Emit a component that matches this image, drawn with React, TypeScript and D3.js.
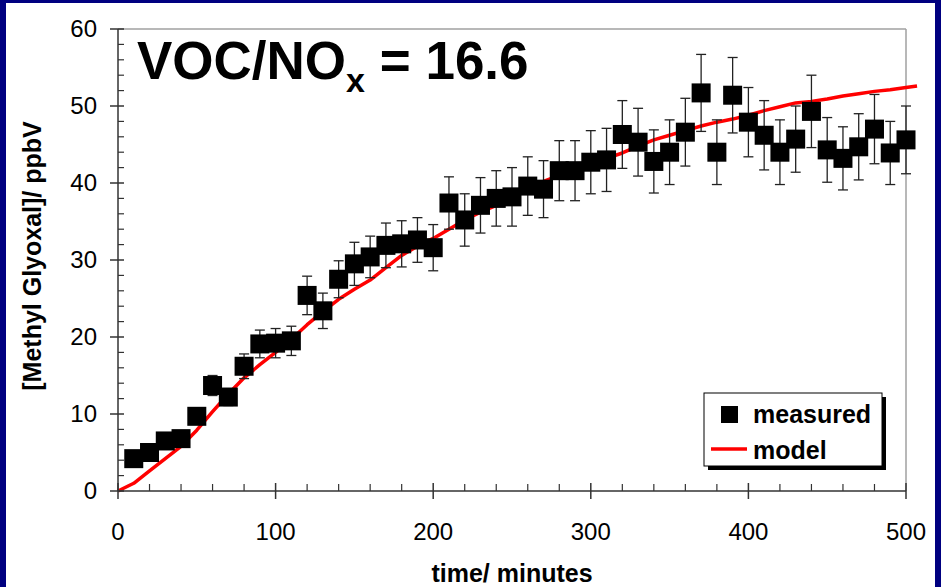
import * as d3 from 'd3';

// measured methyl glyoxal (ppbV) every 10 minutes, with error bars
const times = [10, 20, 30, 40, 50, 60, 70, 80, 90, 100,
    110, 120, 130, 140, 150, 160, 170, 180, 190, 200,
    210, 220, 230, 240, 250, 260, 270, 280, 290, 300,
    310, 320, 330, 340, 350, 360, 370, 380, 390, 400,
    410, 420, 430, 440, 450, 460, 470, 480, 490, 500];
const measured = [4.2, 5.0, 6.5, 6.8, 9.7, 13.7, 12.2, 16.2, 19.1, 19.2,
    19.5, 25.4, 23.4, 27.5, 29.5, 30.4, 31.9, 32.1, 32.6, 31.6,
    37.4, 35.2, 37.1, 38.0, 38.2, 39.6, 39.2, 41.6, 41.6, 42.7,
    43.0, 46.3, 45.3, 42.8, 44.0, 46.6, 51.7, 44.0, 51.4, 47.9,
    46.2, 44.0, 45.7, 49.3, 44.3, 43.2, 44.7, 47.0, 43.9, 45.6];
const errors = [0.4, 0.5, 0.6, 0.6, 0.9, 1.3, 1.1, 1.6, 1.8, 1.9,
    1.9, 2.5, 2.3, 2.4, 2.8, 2.7, 2.9, 3.0, 2.9, 3.0,
    3.4, 3.4, 3.6, 3.6, 3.8, 3.8, 3.7, 3.9, 3.9, 4.1,
    4.1, 4.4, 4.4, 4.1, 4.2, 4.4, 5.0, 4.2, 4.9, 4.5,
    4.5, 4.2, 4.3, 4.7, 4.2, 4.1, 4.3, 4.5, 4.1, 4.4];

// model curve
const modelTimes = [0, 10, 20, 30, 40, 50, 60, 70, 80, 90, 100,
    110, 120, 130, 140, 150, 160, 170, 180, 190, 200,
    210, 220, 230, 240, 250, 260, 270, 280, 290, 300,
    310, 320, 330, 340, 350, 360, 370, 380, 390, 400,
    410, 420, 430, 440, 450, 460, 470, 480, 490, 500, 507];
const modelValues = [0, 1.0, 2.6, 4.2, 5.8, 7.9, 10.3, 12.6, 14.7, 16.4, 18.0,
    19.7, 21.6, 23.3, 24.9, 26.2, 27.4, 29.0, 30.6, 31.8, 32.8,
    34.0, 35.2, 36.2, 37.1, 38.1, 39.2, 40.2, 41.0, 41.9, 42.6,
    43.2, 43.9, 44.8, 45.6, 46.2, 46.8, 47.4, 47.9, 48.3, 48.8,
    49.4, 49.9, 50.4, 50.6, 50.9, 51.3, 51.6, 51.9, 52.1, 52.4, 52.6];

const xTicks = [0, 100, 200, 300, 400, 500];
const yTicks = [0, 10, 20, 30, 40, 50, 60];

const font = "'Liberation Sans', Arial, sans-serif";

export default function App() {
    const W = 941, H = 587;
    const left = 118, right = 906, top = 29, bottom = 491;

    const x = d3.scaleLinear().domain([0, 500]).range([left, right]);
    const y = d3.scaleLinear().domain([0, 60]).range([bottom, top]);

    const modelPts = modelTimes.map((t, i) => [t, modelValues[i]] as [number, number]);
    const line = d3.line<[number, number]>()
        .x(d => x(d[0]))
        .y(d => y(d[1]));

    const xMinor = d3.range(0, 501, 20).filter(v => v % 100 !== 0);
    const yMinor = d3.range(0, 61, 2).filter(v => v % 10 !== 0);
    const axisColor = '#333';
    const sq = 19;

    return (
        <svg width={W} height={H} style={{ position: 'absolute', left: 0, top: 0 }} fontFamily={font}>
            <rect x={0} y={0} width={W} height={H} fill="#000080" />
            <rect x={6} y={3} width={929} height={H - 3} fill="#fff" />

            {/* frame */}
            <line x1={left} x2={right} y1={top} y2={top} stroke="#a0a0a0" strokeWidth={1.5} />
            <line x1={right} x2={right} y1={top} y2={bottom} stroke="#a0a0a0" strokeWidth={1.5} />

            {/* model */}
            <path d={line(modelPts) || ''} fill="none" stroke="#ff0000" strokeWidth={3.5} strokeLinejoin="round" />

            {/* error bars */}
            {times.map((t, i) => {
                const cx = x(t);
                const y1 = y(measured[i] + errors[i]);
                const y2 = y(measured[i] - errors[i]);
                return (
                    <g key={'e' + i} stroke="#222" strokeWidth={1.3}>
                        <line x1={cx} x2={cx} y1={y1} y2={y2} />
                        <line x1={cx - 5} x2={cx + 5} y1={y1} y2={y1} />
                        <line x1={cx - 5} x2={cx + 5} y1={y2} y2={y2} />
                    </g>
                );
            })}

            {/* measured squares */}
            {times.map((t, i) => (
                <rect key={'m' + i} x={x(t) - sq / 2} y={y(measured[i]) - sq / 2}
                    width={sq} height={sq} fill="#000" />
            ))}

            {/* y axis */}
            <line x1={left} x2={left} y1={top} y2={bottom} stroke={axisColor} strokeWidth={1.5} />
            {yTicks.map(v => (
                <g key={'yt' + v}>
                    <line x1={left - 8} x2={left + 6} y1={y(v)} y2={y(v)} stroke={axisColor} strokeWidth={1.5} />
                    <text x={97} y={y(v) + 8} textAnchor="end" fontSize={24} fill="#000">{v}</text>
                </g>
            ))}
            {yMinor.map(v => (
                <line key={'ym' + v} x1={left} x2={left + 6} y1={y(v)} y2={y(v)} stroke={axisColor} strokeWidth={1.2} />
            ))}

            {/* x axis */}
            <line x1={left} x2={right} y1={bottom} y2={bottom} stroke={axisColor} strokeWidth={1.5} />
            {xTicks.map(v => (
                <g key={'xt' + v}>
                    <line x1={x(v)} x2={x(v)} y1={bottom - 8} y2={bottom + 8} stroke={axisColor} strokeWidth={1.5} />
                    <text x={x(v)} y={540} textAnchor="middle" fontSize={24} fill="#000">{v}</text>
                </g>
            ))}
            {xMinor.map(v => (
                <line key={'xm' + v} x1={x(v)} x2={x(v)} y1={bottom - 7} y2={bottom} stroke={axisColor} strokeWidth={1.2} />
            ))}

            {/* axis titles */}
            <text x={(left + right) / 2} y={582} textAnchor="middle" fontSize={25} fontWeight="bold">time/ minutes</text>
            <text transform={`translate(41, ${(top + bottom) / 2 - 4}) rotate(-90)`} textAnchor="middle"
                fontSize={25} fontWeight="bold">[Methyl Glyoxal]/ ppbV</text>

            {/* title */}
            <text x={137} y={79} fontSize={53} fontWeight="bold">
                VOC/NO<tspan fontSize={34} dy={13}>x</tspan><tspan dy={-13}> = 16.6</tspan>
            </text>

            {/* legend */}
            <rect x={708} y={397} width={178} height={73} fill="#000" />
            <rect x={704} y={393} width={178} height={73} fill="#fff" stroke="#000" strokeWidth={1} />
            <rect x={721} y={406} width={17} height={17} fill="#000" />
            <text x={753} y={423} fontSize={25} fontWeight="bold">measured</text>
            <line x1={711} x2={747} y1={449} y2={449} stroke="#ff0000" strokeWidth={3.5} />
            <text x={753} y={459} fontSize={25} fontWeight="bold">model</text>
        </svg>
    );
}
